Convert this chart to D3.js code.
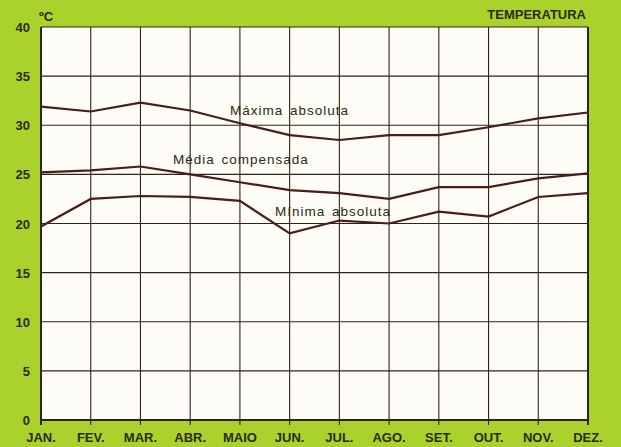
<!DOCTYPE html>
<html>
<head>
<meta charset="utf-8">
<script src="https://cdn.jsdelivr.net/npm/d3@7"></script>
<style>
  body { margin: 0; background: #abd22c; }
  text { font-family: "Liberation Sans Narrow", "Liberation Sans", Arial, sans-serif; fill: #2b2a12; }
</style>
</head>
<body>
<div id="chart"></div>
<script>
// monthly temperatures
const months = ["JAN.", "FEV.", "MAR.", "ABR.", "MAIO", "JUN.", "JUL.", "AGO.", "SET.", "OUT.", "NOV.", "DEZ."]
const maxima = [31.9, 31.4, 32.3, 31.5, 30.2, 29.0, 28.5, 29.0, 29.0, 29.8, 30.7, 31.3]
const media = [25.2, 25.4, 25.8, 25.0, 24.2, 23.4, 23.1, 22.5, 23.7, 23.7, 24.6, 25.1]
const minima = [19.7, 22.5, 22.8, 22.7, 22.3, 19.0, 20.3, 20.0, 21.2, 20.7, 22.7, 23.1]
const yTicks = [0, 5, 10, 15, 20, 25, 30, 35, 40]

const seriesLabels = [
  {name: "Máxima absoluta", values: maxima, x: 230, y: 115},
  {name: "Média compensada", values: media, x: 173, y: 164},
  {name: "Mínima absoluta", values: minima, x: 275, y: 216}
]

params = {
  fullWidth: 621,
  fullHeight: 447,
  leftMargin: 41,
  rightMargin: 33,
  topMargin: 27,
  bottomMargin: 27,
  getWidth() { return this.fullWidth - this.leftMargin - this.rightMargin },
  getHeight() { return this.fullHeight - this.topMargin - this.bottomMargin }
}

const svg = d3.select("#chart").append("svg")
  .attr("width", params.fullWidth)
  .attr("height", params.fullHeight)

svg.append("rect")
  .attr("width", params.fullWidth).attr("height", params.fullHeight)
  .attr("fill", "#abd22c")

const g = svg.append("g")
  .attr("transform", `translate(${params.leftMargin},${params.topMargin})`)

const x = d3.scalePoint().domain(months).range([0, params.getWidth()])
const y = d3.scaleLinear().domain([0, 40]).range([params.getHeight(), 0])

// plot paper
g.append("rect")
  .attr("width", params.getWidth()).attr("height", params.getHeight())
  .attr("fill", "#fdfcf6")

// grid
g.selectAll(".hgrid").data(yTicks).enter().append("line")
  .attr("x1", 0).attr("x2", params.getWidth())
  .attr("y1", d => y(d)).attr("y2", d => y(d))
  .attr("stroke", "#2e2418").attr("stroke-width", d => d == 0 ? 2 : 1.1)

g.selectAll(".vgrid").data(months).enter().append("line")
  .attr("x1", d => x(d)).attr("x2", d => x(d))
  .attr("y1", 0).attr("y2", params.getHeight() + 5)
  .attr("stroke", "#2e2418").attr("stroke-width", (d, i) => (i == 0 || i == 11) ? 2 : 1.1)

// axis labels
g.selectAll(".ylab").data(yTicks).enter().append("text")
  .attr("x", -11).attr("y", d => y(d) + 5)
  .attr("text-anchor", "end")
  .attr("font-size", "13px").attr("font-weight", "bold")
  .text(d => d)

g.selectAll(".xlab").data(months).enter().append("text")
  .attr("x", d => x(d)).attr("y", params.getHeight() + 22)
  .attr("text-anchor", "middle")
  .attr("font-size", "13px").attr("font-weight", "bold")
  .text(d => d)

g.append("text")
  .attr("x", -2).attr("y", -6)
  .attr("font-size", "13px").attr("font-weight", "bold")
  .text("ºC")

g.append("text")
  .attr("x", params.getWidth() - 2).attr("y", -8)
  .attr("text-anchor", "end")
  .attr("font-size", "13px").attr("font-weight", "bold")
  .text("TEMPERATURA")

// lines
const line = d3.line().x((d, i) => x(months[i])).y(d => y(d))

g.selectAll(".series").data(seriesLabels).enter().append("path")
  .attr("d", d => line(d.values))
  .attr("fill", "none")
  .attr("stroke", "#4a1d16")
  .attr("stroke-width", 2.2)

svg.selectAll(".slab").data(seriesLabels).enter().append("text")
  .attr("x", d => d.x).attr("y", d => d.y)
  .attr("font-size", "13.5px")
  .attr("letter-spacing", "1px")
  .attr("word-spacing", "2px")
  .text(d => d.name)
</script>
</body>
</html>
